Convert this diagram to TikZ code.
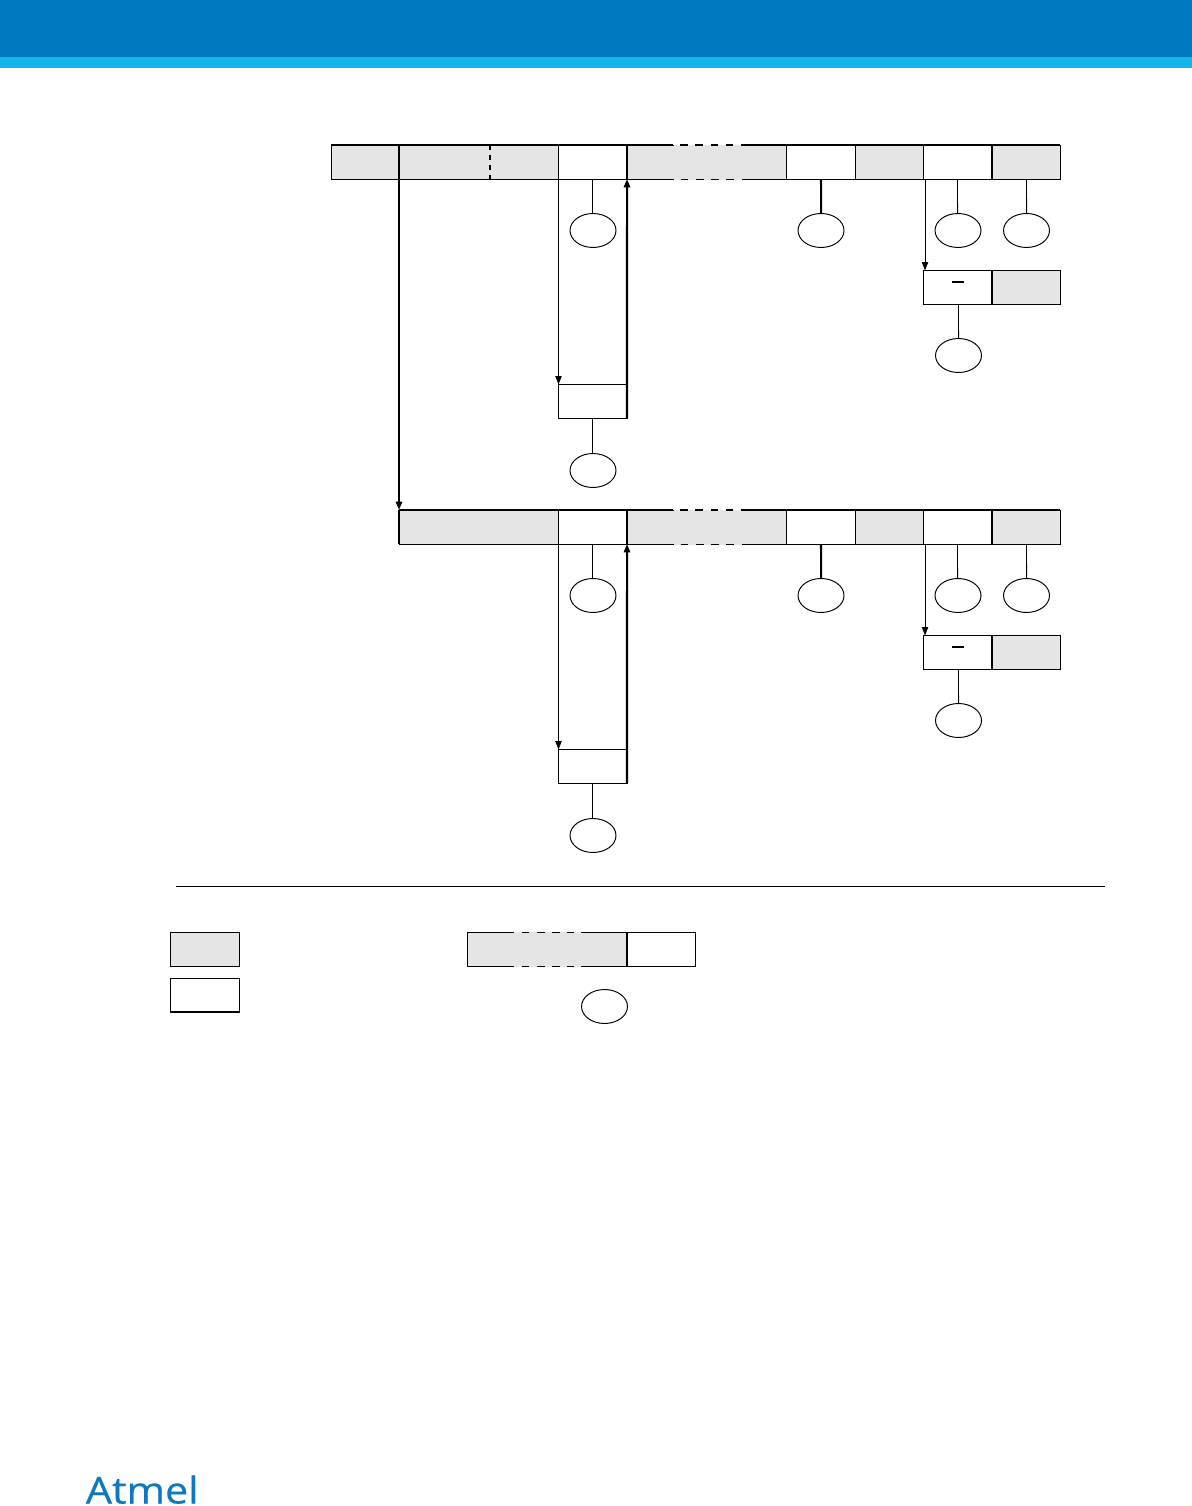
\documentclass[tikz,border=0pt]{standalone}
\usepackage{fontspec}
\setsansfont{Open Sans}
\definecolor{headblue}{HTML}{0079C1}
\definecolor{headcyan}{HTML}{14B5EA}
\definecolor{fieldgray}{HTML}{E5E5E5}
\definecolor{logoblue}{HTML}{0D78BE}
\usetikzlibrary{arrows.meta, shapes.geometric}
\tikzset{
	fieldbox/.style={draw=black, line width=0.55pt, inner sep=0, outer sep=0, anchor=north west, minimum height=0.68cm},
	grayfield/.style={fieldbox, fill=fieldgray},
	whitefield/.style={fieldbox, fill=white},
	gapfield/.style={fill=fieldgray, inner sep=0, outer sep=0, anchor=north west, minimum height=0.7cm},
	callout/.style={draw=black, line width=0.55pt, ellipse, inner sep=0, outer sep=0, minimum width=0.92cm, minimum height=0.68cm, anchor=north},
	halfpixel/.style={transform canvas={xshift=-0.01cm, yshift=0.01cm}},
	thinline/.style={line width=0.55pt},
	thinstem/.style={line width=0.55pt, transform canvas={xshift=-0.01cm}},
	thickstem/.style={line width=1.15pt},
	thickline/.style={line width=1.15pt, halfpixel},
	thinarrow/.style={line width=0.55pt, -{Triangle[length=4.8pt,width=3.6pt]}},
	thickarrow/.style={line width=1.15pt, halfpixel, -{Triangle[length=4.8pt,width=3.6pt]}},
	cutdash/.style={line width=1.15pt, halfpixel, dash pattern=on 2.8pt off 2.8pt},
	topdash/.style={line width=1.15pt, halfpixel, dash pattern=on 4.5pt off 4.2pt},
	botdash/.style={line width=0.55pt, dash pattern=on 4.5pt off 4.2pt},
}
\begin{document}
\begin{tikzpicture}[x=0.02cm, y=-0.02cm]
		\useasboundingbox (-0.5,-0.5) rectangle (1190.5,1505.5);
		\fill[headblue] (-1,-1) rectangle (1191,57);
		\fill[headcyan] (-1,57) rectangle (1191,68);
		% first frame
		\node[grayfield, minimum width=1.36cm] (sofa) at (331,145) {};
		\node[grayfield, minimum width=3.18cm] (ida) at (399,145) {};
		\node[whitefield, minimum width=1.38cm] (ctla) at (558,145) {};
		\node[grayfield, minimum width=3.18cm] (dataa) at (627,145) {};
		\node[whitefield, minimum width=1.38cm] (crca) at (786,145) {};
		\node[grayfield, minimum width=1.36cm] (dela) at (855,145) {};
		\node[whitefield, minimum width=1.38cm] (acka) at (923,145) {};
		\node[grayfield, minimum width=1.36cm] (eofa) at (992,145) {};
		\node[gapfield, minimum width=1.36cm] (gapa) at (673,144.5) {};
		\coordinate (cuta) at (490,145);
		\coordinate (cutb) at (490,179);
		\draw[cutdash] (cuta) -- (cutb);
		\draw[topdash] (gapa.north west) ++(7,0.5) -- ++(53,0);
		\draw[botdash] (gapa.south west) ++(7,-0.5) -- ++(53,0);
		\draw[thickline] (sofa.north west) -- (gapa.west |- sofa.north west);
		\draw[thickline] (gapa.east |- eofa.north east) -- (eofa.north east);
		\draw[thickline] (ida.north west) -- (ida.south west);
		\draw[thickline] (dataa.north west) -- (dataa.south west);
		\draw[thickline] (eofa.north west) -- (eofa.south west);
		\node[callout] (ctlc) at (592.5,213) {};
		\node[callout] (crcc) at (820.5,213) {};
		\node[callout] (ackc) at (957.5,213) {};
		\node[callout] (eofc) at (1026,213) {};
		\draw[thinstem] (ctla.south) -- (ctlc.north);
		\draw[thickstem] (crca.south) -- (crcc.north);
		\draw[thinstem] (acka.south) -- (ackc.north);
		\draw[thinline] (eofa.south) -- (eofc.north);
		\node[whitefield, minimum width=1.38cm] (ackb) at (923,270) {};
		\node[grayfield, minimum width=1.36cm] (eofb) at (992,270) {};
		\draw[thickline] (eofb.north west) -- (eofb.south west);
		\draw[thickline] (952,282) -- (964,282);
		\node[callout] (ackd) at (958,338) {};
		\draw[thinline] ([xshift=0.01cm]ackb.south) -- (ackd.north);
		\draw[thinarrow] ([xshift=0.03cm]acka.south west) -- ([xshift=0.03cm]ackb.north west);
		\node[whitefield, minimum width=1.38cm] (ctlb) at (558,384) {};
		\draw[thinarrow] (ctla.south west) -- (ctlb.north west);
		\draw[thickarrow] (ctlb.south east) -- (dataa.south west);
		\node[callout] (ctld) at (592.5,453) {};
		\draw[thinstem] (ctlb.south) -- (ctld.north);
		% second frame
		\node[grayfield, minimum width=3.18cm] (idb) at (399,510) {};
		\node[whitefield, minimum width=1.38cm] (ctle) at (558,510) {};
		\node[grayfield, minimum width=3.18cm] (datab) at (627,510) {};
		\node[whitefield, minimum width=1.38cm] (crcb) at (786,510) {};
		\node[grayfield, minimum width=1.36cm] (delb) at (855,510) {};
		\node[whitefield, minimum width=1.38cm] (acke) at (923,510) {};
		\node[grayfield, minimum width=1.36cm] (eofe) at (992,510) {};
		\node[gapfield, minimum width=1.36cm] (gapb) at (673,509.5) {};
		\draw[topdash] (gapb.north west) ++(7,0.5) -- ++(53,0);
		\draw[botdash] (gapb.south west) ++(7,-0.5) -- ++(53,0);
		\draw[thickline] (idb.north west) -- (gapb.west |- idb.north west);
		\draw[thickline] (gapb.east |- eofe.north east) -- (eofe.north east);
		\draw[thickline] (idb.north west) -- (idb.south west);
		\draw[thickline] (datab.north west) -- (datab.south west);
		\draw[thickline] (eofe.north west) -- (eofe.south west);
		\draw[thickarrow] (ida.south west) -- (idb.north west);
		\node[callout] (ctlf) at (592.5,578) {};
		\node[callout] (crcd) at (820.5,578) {};
		\node[callout] (ackf) at (957.5,578) {};
		\node[callout] (eoff) at (1026,578) {};
		\draw[thinstem] (ctle.south) -- (ctlf.north);
		\draw[thickstem] (crcb.south) -- (crcd.north);
		\draw[thinstem] (acke.south) -- (ackf.north);
		\draw[thinline] (eofe.south) -- (eoff.north);
		\node[whitefield, minimum width=1.38cm] (ackg) at (923,635) {};
		\node[grayfield, minimum width=1.36cm] (eofg) at (992,635) {};
		\draw[thickline] (eofg.north west) -- (eofg.south west);
		\draw[thickline] (952,647) -- (964,647);
		\node[callout] (ackh) at (958,703) {};
		\draw[thinline] ([xshift=0.01cm]ackg.south) -- (ackh.north);
		\draw[thinarrow] ([xshift=0.03cm]acke.south west) -- ([xshift=0.03cm]ackg.north west);
		\node[whitefield, minimum width=1.38cm] (ctlg) at (558,749) {};
		\draw[thinarrow] (ctle.south west) -- (ctlg.north west);
		\draw[thickarrow] (ctlg.south east) -- (datab.south west);
		\node[callout] (ctlh) at (592.5,818) {};
		\draw[thinstem] (ctlg.south) -- (ctlh.north);
		% legend
		\draw[thinline] (175,886) -- (1104,886);
		\node[grayfield, minimum width=1.38cm] (keya) at (170,932) {};
		\node[whitefield, minimum width=1.38cm] (keyb) at (170,978) {};
		\draw[thickline] (keyb.south west) -- (keyb.south east);
		\node[grayfield, minimum width=3.2cm] (keyc) at (467,932) {};
		\node[whitefield, minimum width=1.36cm] (keyd) at (627,932) {};
		\node[gapfield, minimum width=1.36cm] (keygap) at (513,931.5) {};
		\draw[botdash] (keygap.north west) ++(8,0.5) -- ++(52,0);
		\draw[botdash] (keygap.south west) ++(8,-0.5) -- ++(52,0);
		\draw[thickline] (keyd.north west) -- (keyd.south west);
		\node[callout] (keye) at (604,989) {};
		% logo
		\node[logoblue, font=\sffamily\fontsize{21pt}{21pt}\selectfont, inner sep=0, anchor=base west] (logo) at (85,1503) {\addfontfeature{FakeBold=0.5}\scalebox{1.12}[1]{Atmel}};
	\end{tikzpicture}
\end{document}
